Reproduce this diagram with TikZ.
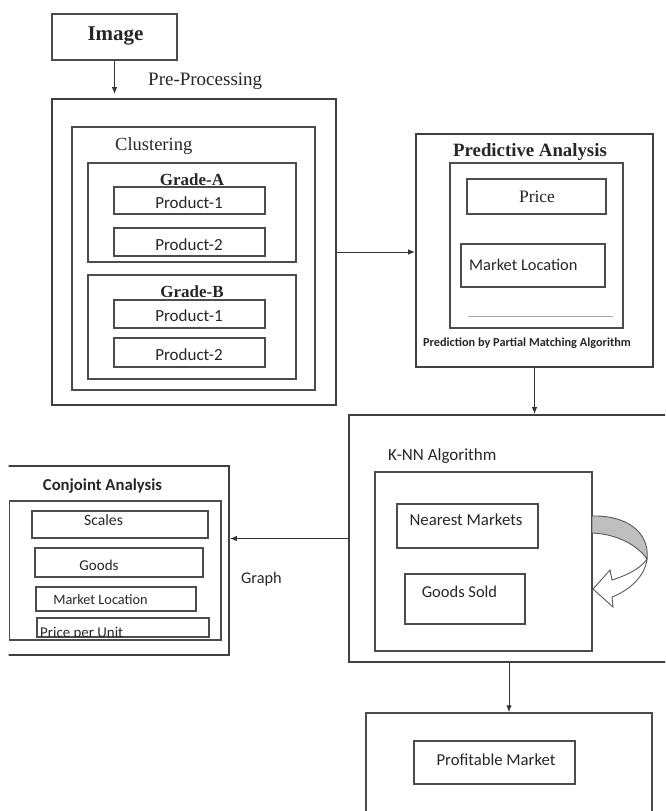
\documentclass[tikz,border=0pt]{standalone}
\usepackage{fontspec}
\setmainfont{Liberation Serif}
\newfontfamily\sansfnt{Carlito}
\newcommand{\calsz}[1]{\sansfnt\fontsize{#1}{#1}\selectfont}
\newcommand{\sersz}[1]{\fontsize{#1}{#1}\selectfont}
\usetikzlibrary{arrows.meta}

\tikzstyle{outer} = [rectangle, draw=black!75, line width=1.8pt, inner sep=0pt]
\tikzstyle{b} = [rectangle, draw=black!70, line width=1.1pt, inner sep=0pt]
\tikzstyle{t} = [inner sep=0pt, anchor=base, text=black!85]
\tikzstyle{tl} = [inner sep=0pt, anchor=base west, text=black!85]

\begin{document}
\begin{tikzpicture}[x=1pt, y=-1pt, >={Latex[length=7pt,width=5.5pt]}]
\useasboundingbox (0,0) rectangle (665,811);
\clip (8.5,0) rectangle (665,811);

% input and pre-processing
\node [b, minimum width=125pt, minimum height=46pt] (img) at (114.5,37) {};
\node [t, font=\bfseries\sersz{21}] (imgtxt) at (115.5,40) {Image};
\node [tl, font=\sersz{19}] (pptxt) at (148,85) {Pre-Processing};

% clustering block
\node [outer, minimum width=284pt, minimum height=306pt] (proc) at (194,252) {};
\node [b, minimum width=243pt, minimum height=263pt] (clus) at (193.5,258.5) {};
\node [tl, font=\sersz{18.5}] (clustxt) at (115,150) {Clustering};
\node [b, minimum width=208pt, minimum height=99pt] (ga) at (192,212.5) {};
\node [t, font=\bfseries\sersz{17}] (gatxt) at (192,185) {Grade-A};
\node [b, minimum width=151pt, minimum height=27pt] (pa1) at (189.5,200.5) {};
\node [t, font=\calsz{17}] (pa1txt) at (189,208.3) {Product-1};
\node [b, minimum width=151pt, minimum height=28pt] (pa2) at (189.5,242) {};
\node [t, font=\calsz{17}] (pa2txt) at (189,250.7) {Product-2};
\node [b, minimum width=208pt, minimum height=104pt] (gb) at (192,327) {};
\node [t, font=\bfseries\sersz{17}] (gbtxt) at (192,297.3) {Grade-B};
\node [b, minimum width=151pt, minimum height=28pt] (pb1) at (189.5,314) {};
\node [t, font=\calsz{17}] (pb1txt) at (189,321.7) {Product-1};
\node [b, minimum width=151pt, minimum height=29pt] (pb2) at (189.5,352.5) {};
\node [t, font=\calsz{17}] (pb2txt) at (189,360.7) {Product-2};

% predictive analysis
\node [outer, minimum width=237pt, minimum height=233pt] (pred) at (534.5,250.5) {};
\node [t, font=\bfseries\sersz{18.8}] (predtxt) at (530,156.7) {Predictive Analysis};
\node [b, minimum width=173pt, minimum height=165pt] (predin) at (536.5,245.5) {};
\node [b, minimum width=139pt, minimum height=35pt] (price) at (536.5,196.5) {};
\node [t, font=\sersz{17.5}] (pricetxt) at (537,202.3) {Price};
\node [b, minimum width=144pt, minimum height=43pt] (mloc) at (533,265.5) {};
\node [tl, font=\calsz{16.4}] (mloctxt) at (469,270) {Market Location};
\draw [black!35, line width=1pt] (468,316) -- (613,316);
\node [t, font=\bfseries\calsz{12.3}] (ppmtxt) at (527,346) {Prediction by Partial Matching Algorithm};

% k-nn
\node [outer, minimum width=341pt, minimum height=247pt] (knn) at (519.5,538.5) {};
\node [tl, font=\calsz{17}] (knntxt) at (388,460) {K-NN Algorithm};
\node [b, minimum width=217pt, minimum height=179pt] (knnin) at (483.5,561.5) {};
\node [b, minimum width=141pt, minimum height=44pt] (near) at (467.5,526) {};
\node [t, font=\calsz{16.8}] (neartxt) at (466,525) {Nearest Markets};
\node [b, minimum width=120pt, minimum height=50pt] (sold) at (465,599) {};
\node [t, font=\calsz{16.5}] (soldtxt) at (459.5,597.3) {Goods Sold};

% curved loop arrow
\draw [black!65, line width=0.9pt, fill=black!25] (592,516) .. controls (626,515) and (650,532) .. (647,559)
  .. controls (638,546) and (618,534) .. (592,533) -- cycle;
\draw [black!65, line width=0.9pt, fill=white] (647,559) .. controls (645,576) and (630,590) .. (612,597)
  -- (613,607) -- (593,589) -- (610,570) -- (612,580) .. controls (628,575) and (641,568) .. (647,559) -- cycle;

% profitable market
\node [b, line width=1.5pt, minimum width=286pt, minimum height=117pt] (prof) at (509,771.5) {};
\node [b, minimum width=161pt, minimum height=43pt] (profin) at (494.5,762.5) {};
\node [t, font=\calsz{16.7}] (proftxt) at (496,765.7) {Profitable Market};

% conjoint analysis
\node [outer, minimum width=227pt, minimum height=189pt] (conj) at (115.5,560.5) {};
\node [t, font=\bfseries\calsz{16.7}] (conjtxt) at (102.5,490.7) {Conjoint Analysis};
\node [b, minimum width=211.5pt, minimum height=139pt] (conjin) at (115.25,570.5) {};
\node [b, minimum width=176pt, minimum height=27pt] (scales) at (120,524.5) {};
\node [t, font=\calsz{15.7}] (scalestxt) at (103.5,525) {Scales};
\node [b, minimum width=168pt, minimum height=29pt] (goods) at (119,562.5) {};
\node [t, font=\calsz{15}] (goodstxt) at (99,570) {Goods};
\node [b, minimum width=160pt, minimum height=24pt] (cml) at (116,599) {};
\node [t, font=\calsz{14.3}] (cmltxt) at (100.5,604) {Market Location};
\node [b, minimum width=172pt, minimum height=19pt] (ppu) at (123,627.5) {};
\begin{scope}
\clip (ppu.north west) rectangle ([yshift=1.5pt]ppu.south east);
\node [tl, font=\calsz{14.9}] (pputxt) at (40,637.6) {Price per Unit};
\end{scope}
\node [tl, font=\calsz{16.3}] (graphtxt) at (241,583.3) {Graph};

% connectors
\draw [->, black!80, line width=1pt, shorten >=4pt] (img.south) -- (img.south |- proc.north);
\draw [->, black!80, line width=1pt] (proc.east) -- (proc.east -| pred.west);
\draw [->, black!80, line width=1pt] (pred.south) -- (pred.south |- knn.north);
\draw [->, black!80, line width=1pt] (knn.west) -- (knn.west -| conj.east);
\draw [->, black!80, line width=1pt] (prof.north |- knn.south) -- (prof.north);
\end{tikzpicture}
\end{document}
